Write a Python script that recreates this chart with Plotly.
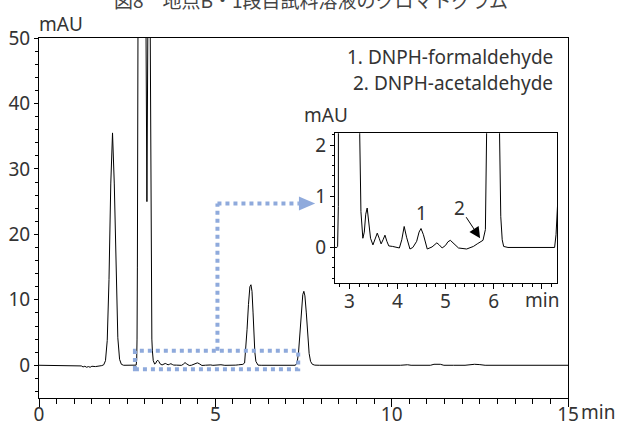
import plotly.graph_objects as go

# ---- data (time in min, absorbance in mAU) ----
time_min = [
    0.00, 1.15, 1.20, 1.25, 1.30, 1.35, 1.40, 1.45, 1.50, 1.60, 1.70, 1.78,
    1.835, 1.885, 1.935, 1.985, 2.035, 2.085, 2.135, 2.185, 2.235, 2.285, 2.335, 2.40,
    2.74, 2.755, 2.77, 2.78, 2.79, 2.80, 2.82, 2.86, 2.92, 2.98, 3.03, 3.06, 3.09,
    3.12, 3.15, 3.175, 3.20, 3.215, 3.24, 3.28,
    3.31, 3.34, 3.37, 3.40, 3.44, 3.49, 3.53, 3.58, 3.62, 3.66, 3.70, 3.74, 3.78,
    3.82, 3.90, 3.99, 4.04, 4.09, 4.14, 4.19, 4.26, 4.32, 4.40, 4.45, 4.49, 4.54,
    4.62, 4.72, 4.77, 4.82, 4.87, 4.93, 5.00, 5.05, 5.10, 5.16, 5.27, 5.44, 5.58,
    5.66, 5.71, 5.78, 5.83, 5.86, 5.90, 5.94, 5.98, 6.01, 6.04, 6.07, 6.10, 6.12,
    6.15, 6.18, 6.21, 6.30, 7.27, 7.30, 7.33, 7.36, 7.40, 7.44, 7.48, 7.51, 7.54,
    7.58, 7.62, 7.66, 7.70, 7.75, 7.82, 7.95,
    10.25, 10.35, 10.45, 10.55, 11.10, 11.20, 11.28, 11.38, 11.48, 11.60, 11.75,
    12.08, 12.20, 12.35, 12.50, 12.65, 15.00,
]
mau = [
    0.0, 0.0, -0.1, -0.25, -0.15, -0.3, -0.2, -0.3, -0.15, -0.2, -0.15, -0.05,
    0.07, 0.7, 3.8, 13.1, 27.7, 35.5, 27.7, 13.5, 4.2, 0.9, 0.15, 0.0,
    0.0, 0.02, 0.8, 4.0, 15.0, 40.0, 80.0, 130.0, 150.0, 110.0, 55.0, 25.0, 55.0,
    90.0, 55.0, 12.0, 4.0, 2.2, 0.7, 0.18,
    0.3, 0.65, 0.77, 0.55, 0.18, 0.05, 0.15, 0.28, 0.18, 0.07, 0.15, 0.24, 0.12,
    0.03, 0.02, 0.01, -0.01, 0.15, 0.41, 0.2, -0.03, 0.0, 0.12, 0.3, 0.37, 0.25,
    -0.03, 0.01, 0.06, 0.09, 0.05, -0.01, 0.04, 0.11, 0.14, 0.08, -0.01, -0.03, 0.02,
    0.07, 0.10, 0.14, 0.35, 2.2, 5.5, 9.3, 12.0, 12.3, 11.3, 8.0, 3.8, 2.0,
    0.6, 0.15, 0.02, 0.0, 0.0, 0.25, 0.8, 2.0, 5.0, 8.5, 10.8, 11.3, 10.6,
    8.0, 4.5, 1.8, 0.6, 0.15, 0.02, 0.0,
    0.0, 0.08, 0.08, 0.0, 0.0, 0.15, 0.2, 0.15, 0.0, -0.05, 0.0,
    0.0, 0.1, 0.15, 0.1, 0.0, 0.0,
]

legend_lines = ["1. DNPH-formaldehyde", "2. DNPH-acetaldehyde"]
peak_labels = ["1", "2"]
peak_label_x = [4.51, 5.30]
peak_label_y = [0.67, 0.78]

main_x_ticks = [0, 5, 10, 15]
main_x_ticktext = ["0", "5", "10", "15"]
inset_x_ticks = [3, 4, 5, 6, 7]
inset_x_ticktext = ["3", "4", "5", "6", ""]

title_text = "図8　地点B・1段目試料溶液のクロマトグラム"

main_x_range = [0, 15]
main_y_range = [-5, 50]
inset_x_range = [2.70, 7.32]
inset_y_range = [-0.7, 2.23]
zoom_box_x = [2.72, 7.35]
zoom_box_y = [-0.6, 2.2]
pointer_x = [5.06, 7.37, 7.83]
pointer_y = 24.7

BLUE = "#8FAADC"
TXT = "#333333"
FONT = "Noto Sans"

fig = go.Figure()
fig.add_trace(go.Scatter(x=time_min, y=mau, mode="lines",
                         line=dict(color="black", width=1), xaxis="x", yaxis="y",
                         showlegend=False, hoverinfo="skip"))
fig.add_trace(go.Scatter(x=time_min, y=mau, mode="lines",
                         line=dict(color="black", width=1), xaxis="x2", yaxis="y2",
                         showlegend=False, hoverinfo="skip"))

axis_common = dict(showgrid=False, zeroline=False, showline=True, mirror=True,
                   automargin=False,
                   linecolor="black", linewidth=1, ticks="outside", tickcolor="black",
                   tickwidth=1, tickfont=dict(family=FONT, size=19, color=TXT))

fig.update_layout(
    width=619, height=430,
    margin=dict(l=39, r=51, t=38, b=32, autoexpand=False),
    paper_bgcolor="white", plot_bgcolor="white",
    xaxis=dict(range=main_x_range, domain=[0, 1], tickmode="array",
               tickvals=main_x_ticks, ticktext=main_x_ticktext, ticklen=8,
               minor=dict(tickmode="linear", dtick=0.5, tick0=0, ticks="outside",
                          ticklen=5, tickcolor="black"),
               **axis_common),
    yaxis=dict(range=main_y_range, domain=[0, 1], tick0=0, dtick=10, ticklen=4,
               minor=dict(dtick=2, tick0=0, ticks="outside", ticklen=3, tickcolor="black"),
               **axis_common),
    xaxis2=dict(range=inset_x_range, domain=[0.5595, 0.9792], anchor="y2",
                tickmode="array", tickvals=inset_x_ticks, ticktext=inset_x_ticktext,
                ticklen=5,
                minor=dict(tickmode="linear", dtick=0.2, tick0=0, ticks="outside",
                           ticklen=3, tickcolor="black"),
                **axis_common),
    yaxis2=dict(range=inset_y_range, domain=[0.3186, 0.7353], anchor="x2", tick0=0, dtick=1,
                ticklen=4,
                minor=dict(dtick=0.2, tick0=0, ticks="outside", ticklen=2, tickcolor="black"),
                **axis_common),
)
try:
    fig.update_layout(xaxis_ticklabelstandoff=-9, xaxis2_ticklabelstandoff=-4)
except ValueError:
    pass

# dotted zoom box and pointer
fig.add_shape(type="rect", xref="x", yref="y",
              x0=zoom_box_x[0], x1=zoom_box_x[1], y0=zoom_box_y[0], y1=zoom_box_y[1],
              line=dict(color=BLUE, width=4, dash="dot"), layer="above")
fig.add_shape(type="line", xref="x", yref="y", x0=pointer_x[0], x1=pointer_x[0],
              y0=zoom_box_y[1], y1=pointer_y, line=dict(color=BLUE, width=4, dash="dot"))
fig.add_shape(type="line", xref="x", yref="y", x0=pointer_x[0], x1=pointer_x[1],
              y0=pointer_y, y1=pointer_y, line=dict(color=BLUE, width=4, dash="dot"))
fig.add_shape(type="path", xref="x", yref="y",
              path=f"M {pointer_x[1]},{pointer_y + 1.07} L {pointer_x[2]},{pointer_y} "
                   f"L {pointer_x[1]},{pointer_y - 1.07} Z",
              fillcolor=BLUE, line=dict(width=0))

ann_font = dict(family=FONT, size=19, color=TXT)
# title (partly cut at top as in the original)
fig.add_annotation(text=title_text, xref="paper", yref="paper", x=0.515, y=1.106,
                   xanchor="center", yanchor="middle", showarrow=False,
                   font=dict(family="Noto Sans CJK JP", size=19, color="#444444"))
# units
fig.add_annotation(text="mAU", xref="paper", yref="paper", x=-0.004, y=1.039,
                   xanchor="left", yanchor="middle", showarrow=False, font=ann_font)
fig.add_annotation(text="min", xref="paper", yref="paper", x=1.021, y=-0.039,
                   xanchor="left", yanchor="middle", showarrow=False, font=ann_font)
fig.add_annotation(text="mAU", xref="paper", yref="paper", x=0.4966, y=0.786,
                   xanchor="left", yanchor="middle", showarrow=False, font=ann_font)
fig.add_annotation(text="min", xref="paper", yref="paper", x=0.951, y=0.272,
                   xanchor="center", yanchor="middle", showarrow=False, font=ann_font)
# legend text
for i, line in enumerate(legend_lines):
    fig.add_annotation(text=line, xref="paper", yref="paper", x=0.9754,
                       y=[0.9472, 0.875][i], xanchor="right", yanchor="middle",
                       showarrow=False, font=ann_font)
# peak labels in inset
for lab, lx, ly in zip(peak_labels, peak_label_x, peak_label_y):
    fig.add_annotation(text=lab, xref="x2", yref="y2", x=lx, y=ly, showarrow=False,
                       xanchor="center", yanchor="middle", font=ann_font)
fig.add_annotation(text="", xref="x2", yref="y2", x=5.72, y=0.18,
                   axref="x2", ayref="y2", ax=5.41, ay=0.62, showarrow=True,
                   arrowhead=2, arrowsize=2.2, arrowwidth=1, arrowcolor="black", standoff=0)

fig.write_html("out.html", config={"displayModeBar": False},
               post_script="document.body.style.margin='0';"
                           "document.body.style.overflow='hidden';")
